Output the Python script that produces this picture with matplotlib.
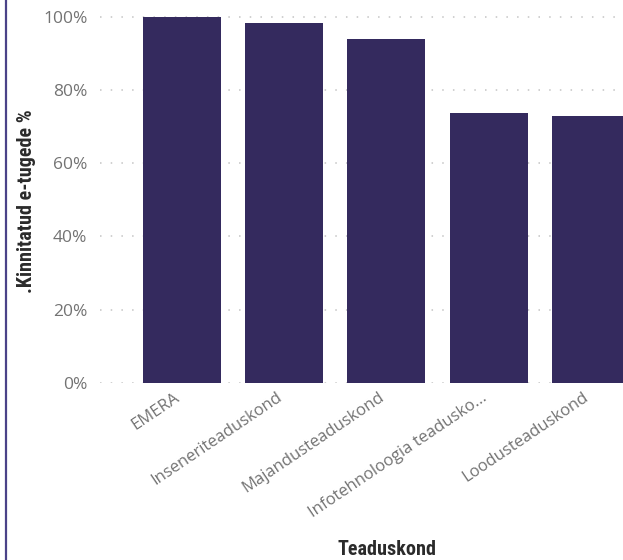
import matplotlib
matplotlib.use("Agg")
import matplotlib.pyplot as plt
from matplotlib.ticker import FuncFormatter, MultipleLocator
import matplotlib.transforms as mtransforms
import logging

logging.getLogger("matplotlib.font_manager").setLevel(logging.ERROR)

categories = ["EMERA", "Inseneriteaduskond", "Majandusteaduskond",
              "Infotehnoloogia teaduskond", "Loodusteaduskond"]
tick_labels = ["EMERA", "Inseneriteaduskond", "Majandusteaduskond",
               "Infotehnoloogia teadusko...", "Loodusteaduskond"]
values = [1.00, 0.984, 0.938, 0.737, 0.728]

bar_color = "#342A5E"
tick_color = "#737373"
title_color = "#2b2b2b"
title_font = ["Roboto Condensed", "Liberation Sans Narrow", "DejaVu Sans"]
tick_font = ["Open Sans", "DejaVu Sans"]

fig = plt.figure(figsize=(6.23, 5.6), dpi=100)
ax = fig.add_axes([0.1605, 0.3161, 0.8395, 0.6671])

x = list(range(len(categories)))
ax.bar(x, values, width=0.763, color=bar_color, zorder=3)

ax.set_ylim(0, 1.02)
ax.set_xlim(-0.8, 4.314)
ax.yaxis.set_major_locator(MultipleLocator(0.2))
ax.yaxis.set_major_formatter(FuncFormatter(lambda v, p: f"{v*100:.0f}%"))
ax.grid(axis="y", linestyle=(0, (1, 6)), color="#c4c4c4", linewidth=1.1, zorder=0)
for s in ax.spines.values():
    s.set_visible(False)
ax.tick_params(axis="y", length=0, pad=9, labelsize=12.5, labelcolor=tick_color)
for lbl in ax.get_yticklabels():
    lbl.set_family(tick_font)

ax.set_xticks(x)
ax.set_xticklabels(tick_labels, rotation=34, rotation_mode="anchor",
                   ha="right", va="top", fontsize=12, color=tick_color,
                   family=tick_font)
ax.tick_params(axis="x", length=0, pad=0)
shift = mtransforms.ScaledTranslation(-0.08, -0.065, fig.dpi_scale_trans)
for lbl in ax.get_xticklabels():
    lbl.set_transform(lbl.get_transform() + shift)

fig.text(0.621, 0.001, "Teaduskond", ha="center", va="bottom", fontsize=14.5,
         fontweight="bold", color=title_color, family=title_font)
fig.text(0.0433, 0.641, ".Kinnitatud e-tugede %", ha="center", va="center",
         rotation=90, fontsize=14.5, fontweight="bold", color=title_color,
         family=title_font)

# left border of the visual
fig.add_artist(plt.Line2D([0.0096, 0.0096], [0, 1], transform=fig.transFigure,
                          color="#4A4288", linewidth=1.6))

fig.savefig("out.png", dpi=100)
